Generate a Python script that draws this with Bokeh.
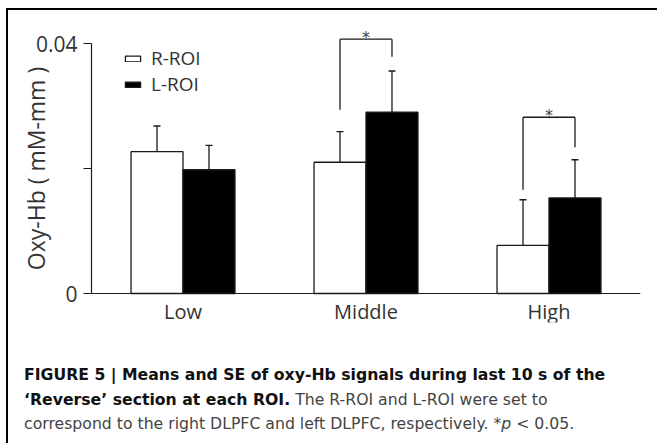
from bokeh.plotting import figure
from bokeh.models import (ColumnDataSource, FactorRange, Range1d, Whisker, TeeHead,
                          Legend, LegendItem, FixedTicker, Div)
from bokeh.transform import dodge
from bokeh.layouts import column
from bokeh.core.properties import value
from bokeh.embed import file_html
from bokeh.resources import INLINE

# ---- data ----
categories = ["Low", "Middle", "High"]
r_roi = [0.0227, 0.0210, 0.0077]
l_roi = [0.0198, 0.0290, 0.0153]
r_se = [0.0041, 0.0049, 0.0073]
l_se = [0.0039, 0.0066, 0.0061]

sig_groups = ["Middle", "High"]
sig_top = [0.0407, 0.0282]
sig_left_end = [0.0294, 0.0166]
sig_right_end = [0.0379, 0.0234]
sig_text = ["*", "*"]

y_ticks = [0, 0.02, 0.04]
y_tick_labels = ["0", "", "0.04"]
y_title = "Oxy-Hb ( mM-mm )"

src = ColumnDataSource(dict(
    cat=categories, r=r_roi, l=l_roi,
    r_hi=[v + e for v, e in zip(r_roi, r_se)],
    l_hi=[v + e for v, e in zip(l_roi, l_se)],
))
sig_src = ColumnDataSource(dict(cat=sig_groups, top=sig_top, lo_l=sig_left_end,
                                lo_r=sig_right_end, txt=sig_text))

INK = "#1a1a1a"
TXT = "#333333"
OFF = 0.142
BW = 0.284

# frame is symmetric about the middle of the 0..0.04 axis so the axis title centres there
p = figure(x_range=FactorRange(factors=categories, range_padding=0),
           y_range=Range1d(-0.00464, 0.04464),
           frame_width=549, frame_height=308,
           min_border_left=83, min_border_right=15, min_border_top=4, min_border_bottom=2,
           output_backend="svg", toolbar_location=None)
p.outline_line_color = None
p.xgrid.visible = False
p.ygrid.visible = False

rb = p.vbar(x=dodge("cat", -OFF, range=p.x_range), top="r", bottom=0, width=BW, source=src,
            fill_color="white", line_color=INK, line_width=1.3)
lb = p.vbar(x=dodge("cat", OFF, range=p.x_range), top="l", bottom=0, width=BW, source=src,
            fill_color="black", line_color=INK, line_width=1.3)

for base, lo, hi in ((dodge("cat", -OFF, range=p.x_range), "r", "r_hi"),
                     (dodge("cat", OFF, range=p.x_range), "l", "l_hi")):
    w = Whisker(source=src, base=base, lower=lo, upper=hi, dimension="height",
                line_color=INK, line_width=1.3, lower_head=None,
                upper_head=TeeHead(size=7, line_color=INK, line_width=1.3),
                level="annotation")
    p.add_layout(w)

# significance brackets
p.segment(x0=dodge("cat", -OFF, range=p.x_range), y0="lo_l",
          x1=dodge("cat", -OFF, range=p.x_range), y1="top", source=sig_src,
          line_color=INK, line_width=1.3)
p.segment(x0=dodge("cat", OFF, range=p.x_range), y0="lo_r",
          x1=dodge("cat", OFF, range=p.x_range), y1="top", source=sig_src,
          line_color=INK, line_width=1.3)
p.segment(x0=dodge("cat", -OFF, range=p.x_range), y0="top",
          x1=dodge("cat", OFF, range=p.x_range), y1="top", source=sig_src,
          line_color=INK, line_width=1.3)
p.text(x="cat", y="top", text="txt", source=sig_src, text_align="center",
       text_baseline="alphabetic", text_font=value("DejaVu Sans"),
       text_font_size="16px", text_color="#444444", y_offset=-2)

# axes
yax = p.yaxis[0]
yax.ticker = FixedTicker(ticks=y_ticks)
yax.major_label_overrides = {t: s for t, s in zip(y_ticks, y_tick_labels)}
yax.bounds = (y_ticks[0], y_ticks[-1])
yax.axis_line_color = INK
yax.axis_line_width = 1.2
yax.major_tick_line_color = INK
yax.major_tick_line_width = 1.2
yax.major_tick_out = 8
yax.major_tick_in = 0
yax.minor_tick_out = 0
yax.minor_tick_in = 0
yax.major_label_text_font = "Open Sans"
yax.major_label_text_font_size = "21px"
yax.major_label_text_color = TXT
yax.major_label_standoff = 6
yax.axis_label = y_title
yax.axis_label_text_font = "Open Sans"
yax.axis_label_text_font_size = "23px"
yax.axis_label_text_font_style = "normal"
yax.axis_label_text_color = TXT
yax.axis_label_standoff = -19

xax = p.xaxis[0]
xax.fixed_location = 0
xax.axis_line_color = INK
xax.axis_line_width = 1.2
xax.major_tick_out = 0
xax.major_tick_in = 0
xax.minor_tick_out = 0
xax.minor_tick_in = 0
xax.major_label_text_font = "Open Sans"
xax.major_label_text_font_size = "20px"
xax.major_label_text_color = TXT
xax.major_label_standoff = 4

legend = Legend(items=[LegendItem(label="R-ROI", renderers=[rb]),
                       LegendItem(label="L-ROI", renderers=[lb])],
                location=(32, 225), margin=0, padding=0,
                border_line_color=None, background_fill_alpha=0,
                glyph_width=19, glyph_height=7, label_standoff=9,
                label_text_font="Open Sans", label_text_font_size="19px",
                label_text_color=TXT, label_height=20, spacing=0)
p.add_layout(legend)

caption_html = (
    '<div style="font-family: \'DejaVu Sans\'; font-size: 15.7px; line-height: 24.5px; '
    'color: #444; white-space: nowrap; padding: 34px 0 0 11px;">'
    '<b style="color:#111">FIGURE 5 | Means and SE of oxy-Hb signals during last 10 s of the<br>'
    '\u2018Reverse\u2019 section at each ROI.</b> The R-ROI and L-ROI were set to<br>'
    'correspond to the right DLPFC and left DLPFC, respectively. *<i>p</i> &lt; 0.05.'
    '</div>'
)
cap = Div(text=caption_html, width=647, height=116)

layout = column(p, cap, margin=(8, 0, 0, 6),
                styles={"border-top": "2px solid #000", "border-left": "2px solid #000"})

open("out.html", "w").write(file_html(layout, INLINE))
